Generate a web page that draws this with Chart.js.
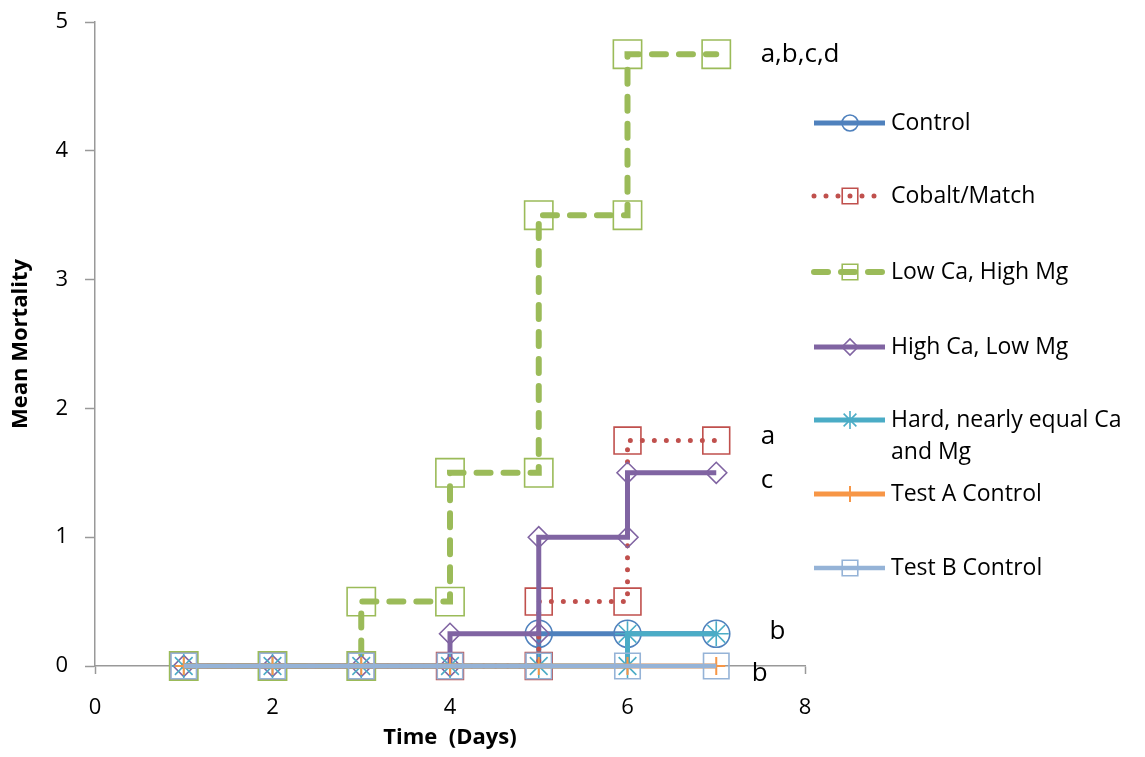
<!DOCTYPE html>
<html>
<head>
<meta charset="utf-8">
<script src="https://cdn.jsdelivr.net/npm/chart.js@4/dist/chart.umd.min.js"></script>
<style>
    html, body { margin: 0; padding: 0; background: #fff; }
    #wrap { width: 1145px; height: 757px; position: relative; }
</style>
</head>
<body>
<div id="wrap"><canvas id="mortalityChart"></canvas></div>
<script>
// Data (days vs mean mortality, steps drawn as repeated points)
const seriesNames = ['Control', 'Cobalt/Match', 'Low Ca, High Mg', 'High Ca, Low Mg',
    'Hard, nearly equal Ca and Mg', 'Test A Control', 'Test B Control'];

const controlX = [1, 2, 3, 4, 5, 5, 6, 7];
const controlY = [0, 0, 0, 0, 0, 0.25, 0.25, 0.25];

const cobaltX = [1, 2, 3, 4, 5, 5, 6, 6, 7];
const cobaltY = [0, 0, 0, 0, 0, 0.5, 0.5, 1.75, 1.75];

const lowCaX = [1, 2, 3, 3, 4, 4, 5, 5, 6, 6, 7];
const lowCaY = [0, 0, 0, 0.5, 0.5, 1.5, 1.5, 3.5, 3.5, 4.75, 4.75];

const highCaX = [1, 2, 3, 4, 4, 5, 5, 6, 6, 7];
const highCaY = [0, 0, 0, 0, 0.25, 0.25, 1, 1, 1.5, 1.5];

const hardX = [1, 2, 3, 4, 5, 6, 6, 7];
const hardY = [0, 0, 0, 0, 0, 0, 0.25, 0.25];

const testAX = [1, 2, 3, 4, 5, 6, 7];
const testAY = [0, 0, 0, 0, 0, 0, 0];

const testBX = [1, 2, 3, 4, 5, 6, 7];
const testBY = [0, 0, 0, 0, 0, 0, 0];

// significance letters next to the day-7 values
const letterText = ['a,b,c,d', 'a', 'c', 'b', 'b'];
const letterX = [7.5, 7.5, 7.5, 7.6, 7.4];
const letterY = [4.75, 1.78, 1.44, 0.27, -0.06];

const xTicks = [0, 2, 4, 6, 8];

function toPoints(xs, ys) {
    return xs.map((x, i) => ({ x: x, y: ys[i] }));
}

const FONT = "'Open Sans', sans-serif";

const styles = [
    { color: '#4F81BD', dash: [], width: 5, point: 'circle', r: 13.5, lr: 8, hideZero: true },
    { color: '#C0504D', dash: [0, 12], width: 5, point: 'rect', r: 19, lr: 11 },
    { color: '#9BBB59', dash: [14, 13], width: 6, point: 'rect', r: 20, lr: 11 },
    { color: '#8064A2', dash: [], width: 5, point: 'rectRot', r: 10.5, lr: 8 },
    { color: '#4BACC6', dash: [], width: 5, point: 'star', r: 12.5, lr: 9 },
    { color: '#F79646', dash: [], width: 5, point: 'cross', r: 9, lr: 8 },
    { color: '#95B3D7', dash: [], width: 4.5, point: 'rect', r: 18, lr: 11 }
];

const allPoints = [
    toPoints(controlX, controlY),
    toPoints(cobaltX, cobaltY),
    toPoints(lowCaX, lowCaY),
    toPoints(highCaX, highCaY),
    toPoints(hardX, hardY),
    toPoints(testAX, testAY),
    toPoints(testBX, testBY)
];

const datasets = allPoints.map((pts, i) => {
    const s = styles[i];
    return {
        label: seriesNames[i],
        data: pts,
        borderColor: s.color,
        backgroundColor: 'rgba(0,0,0,0)',
        borderWidth: s.width,
        borderDash: s.dash,
        borderCapStyle: s.dash.length ? 'round' : 'butt',
        pointStyle: s.point,
        pointRadius: s.hideZero ? (c => (c.raw && c.raw.y === 0 ? 0 : s.r)) : s.r,
        pointBorderWidth: s.point === 'cross' ? 2 : 1.6,
        pointBorderColor: s.color,
        pointBackgroundColor: 'rgba(0,0,0,0)',
        showLine: true,
        tension: 0,
        order: 10 - i
    };
});

// draws the letters and the legend on the right
const extrasPlugin = {
    id: 'extras',
    afterDraw(chart) {
        const ctx = chart.ctx;
        const xs = chart.scales.x, ys = chart.scales.y;
        ctx.save();
        ctx.fillStyle = '#000';
        ctx.font = '26px ' + FONT;
        ctx.textBaseline = 'middle';
        ctx.textAlign = 'left';
        letterText.forEach((t, i) => {
            ctx.fillText(t, xs.getPixelForValue(letterX[i]), ys.getPixelForValue(letterY[i]));
        });

        // legend
        const rowsY = [123, 196, 272, 347, 420, 494, 568];
        const lx0 = 814, lx1 = 885, mx = 850, tx = 891;
        ctx.font = '23px ' + FONT;
        datasets.forEach((d, i) => {
            const s = styles[i];
            const y = rowsY[i];
            ctx.strokeStyle = s.color;
            ctx.lineWidth = s.width;
            ctx.lineCap = s.dash.length ? 'round' : 'butt';
            ctx.setLineDash(s.dash);
            ctx.beginPath();
            ctx.moveTo(lx0, y);
            ctx.lineTo(lx1, y);
            ctx.stroke();
            ctx.setLineDash([]);
            ctx.lineCap = 'butt';
            ctx.lineWidth = s.point === 'cross' ? 2 : 1.6;
            ctx.fillStyle = 'rgba(0,0,0,0)';
            Chart.helpers.drawPoint(ctx, {
                pointStyle: s.point,
                rotation: 0,
                radius: s.lr,
                borderWidth: 1.6
            }, mx, y);
            ctx.fillStyle = '#000';
            if (i === 4) {
                ctx.fillText('Hard, nearly equal Ca', tx, y);
                ctx.fillText('and Mg', tx, y + 32);
            } else {
                ctx.fillText(seriesNames[i], tx, y);
            }
        });
        ctx.restore();
    }
};

new Chart(document.getElementById('mortalityChart').getContext('2d'), {
    type: 'scatter',
    data: { datasets: datasets },
    plugins: [extrasPlugin],
    options: {
        responsive: true,
        maintainAspectRatio: false,
        animation: false,
        clip: false,
        layout: { autoPadding: false, padding: { top: 0, right: 340, left: 0, bottom: 0 } },
        plugins: {
            legend: { display: false },
            tooltip: { enabled: false }
        },
        scales: {
            x: {
                type: 'linear',
                min: 0,
                max: 8,
                afterBuildTicks: axis => { axis.ticks = xTicks.map(v => ({ value: v })); },
                afterFit: axis => { axis.height = 91; },
                border: { color: '#999', width: 1.5 },
                grid: { drawOnChartArea: false, tickLength: 8, tickColor: '#999', tickWidth: 1.5 },
                ticks: { color: '#000', font: { family: FONT, size: 22 }, padding: 21 },
                title: {
                    display: true,
                    text: 'Time  (Days)',
                    color: '#000',
                    font: { family: FONT, size: 22, weight: 'bold' },
                    padding: { top: 0, bottom: 6 }
                }
            },
            y: {
                min: 0,
                max: 5,
                afterFit: axis => {
                    axis.width = 95;
                    axis.paddingTop = 22;
                    axis.paddingBottom = 0;
                },
                ticks: { stepSize: 1, color: '#000', font: { family: FONT, size: 22 }, padding: 17 },
                border: { color: '#999', width: 1.5 },
                grid: { drawOnChartArea: false, tickLength: 10, tickColor: '#999', tickWidth: 1.5 },
                title: {
                    display: true,
                    text: 'Mean Mortality',
                    color: '#000',
                    font: { family: FONT, size: 22, weight: 'bold' },
                    padding: { top: 8, bottom: 0 }
                }
            }
        }
    }
});
</script>
</body>
</html>
